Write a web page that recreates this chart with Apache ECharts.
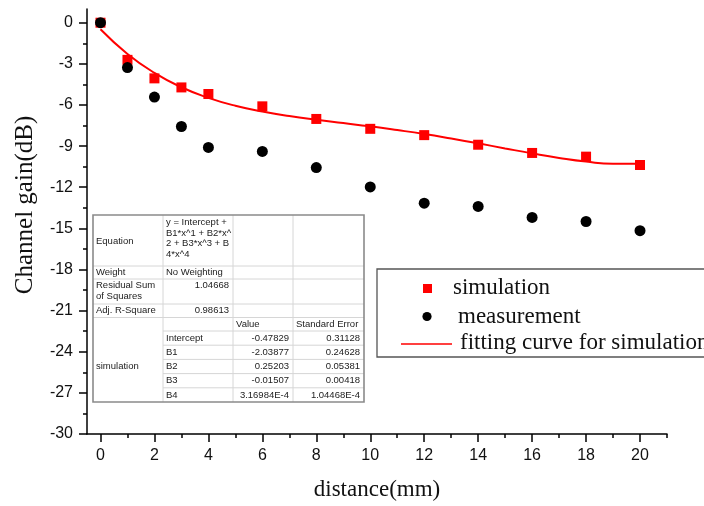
<!DOCTYPE html>
<html>
<head>
<meta charset="utf-8">
<script src="https://cdn.jsdelivr.net/npm/echarts/dist/echarts.min.js"></script>
<style>
html,body{margin:0;padding:0;background:#fff;}
#main{width:704px;height:506px;}
</style>
</head>
<body>
<div id="main"></div>
<script>
// measured points
var distance = [0, 1, 2, 3, 4, 6, 8, 10, 12, 14, 16, 18, 20];
var simulation = [0, -2.71, -4.06, -4.72, -5.2, -6.1, -7.02, -7.74, -8.2, -8.9, -9.5, -9.77, -10.38];
var measurement = [0, -3.27, -5.42, -7.57, -9.1, -9.39, -10.57, -11.98, -13.16, -13.4, -14.2, -14.5, -15.17];
// fitted curve
var fitX = [0, 1, 2, 3, 4, 5, 6, 7, 8, 9, 10, 11, 12, 13, 14, 15, 16, 17, 18, 19, 20];
var fitY = [-0.48, -2.28, -3.66, -4.71, -5.48, -6.06, -6.48, -6.81, -7.08, -7.32, -7.56, -7.83, -8.12, -8.45, -8.8, -9.17, -9.53, -9.86, -10.13, -10.29, -10.28];
// ticks
var xMajor = [0, 2, 4, 6, 8, 10, 12, 14, 16, 18, 20];
var xMinor = [1, 3, 5, 7, 9, 11, 13, 15, 17, 19, 21];
var yMajor = [-30, -27, -24, -21, -18, -15, -12, -9, -6, -3, 0];
var yMinor = [-28.5, -25.5, -22.5, -19.5, -16.5, -13.5, -10.5, -7.5, -4.5, -1.5];
// fit table texts
var eqLines = ['y = Intercept +', 'B1*x^1 + B2*x^', '2 + B3*x^3 + B', '4*x^4'];
var statNames = ['Weight', 'Residual Sum\nof Squares', 'Adj. R-Square'];
var statValues = ['No Weighting', '1.04668', '0.98613'];
var paramNames = ['Intercept', 'B1', 'B2', 'B3', 'B4'];
var paramValues = ['-0.47829', '-2.03877', '0.25203', '-0.01507', '3.16984E-4'];
var paramErrors = ['0.31128', '0.24628', '0.05381', '0.00418', '1.04468E-4'];
var legendNames = ['simulation', 'measurement', 'fitting curve for simulation'];

function pairs(xs, ys) {
    var out = [];
    for (var i = 0; i < xs.length; i++) out.push([xs[i], ys[i]]);
    return out;
}

var sans = '"Liberation Sans", Arial, sans-serif';
var serif = '"Liberation Serif", "Times New Roman", serif';

// table layout
var cols = [93, 163, 233, 293, 364];
var rows = [215, 266, 279, 304, 317.5, 331, 345.2, 359.4, 373.6, 387.8, 402];
var tfont = {fontFamily: sans, fontSize: 9.5, fill: '#222', lineHeight: 10.7};

function txt(s, x, y, align, valign) {
    return {
        type: 'text', x: x, y: y, z: 20,
        style: Object.assign({text: s, align: align || 'left', verticalAlign: valign || 'middle'}, tfont)
    };
}
function ln(x1, y1, x2, y2, color, w) {
    return {type: 'line', z: 19, shape: {x1: x1, y1: y1, x2: x2, y2: y2}, style: {stroke: color, lineWidth: w || 1}};
}

var table = [];
table.push({type: 'rect', z: 18, shape: {x: cols[0], y: rows[0], width: cols[4] - cols[0], height: rows[10] - rows[0]},
    style: {fill: '#fff', stroke: null}});
// grid lines
for (var r = 1; r < rows.length - 1; r++) {
    var startX = (r >= 5) ? cols[1] : cols[0];
    table.push(ln(startX, rows[r], cols[4], rows[r], '#d6d6d6'));
}
for (var c = 1; c < cols.length - 1; c++) {
    table.push(ln(cols[c], rows[0], cols[c], rows[10], '#d6d6d6'));
}
table.push({type: 'rect', z: 21, shape: {x: cols[0], y: rows[0], width: cols[4] - cols[0], height: rows[10] - rows[0]},
    style: {fill: null, stroke: '#8a8a8a', lineWidth: 1.6}});
table.push(txt('Equation', cols[0] + 3, (rows[0] + rows[1]) / 2 + 1));
table.push(txt(eqLines.join('\n'), cols[1] + 3, rows[0] + 2, 'left', 'top'));
for (var i = 0; i < statNames.length; i++) {
    var rowTop = rows[i + 1];
    table.push(txt(statNames[i], cols[0] + 3, rowTop + 1.5, 'left', 'top'));
    if (i == 0) table.push(txt(statValues[i], cols[1] + 3, rowTop + 1.5, 'left', 'top'));
    else table.push(txt(statValues[i], cols[2] - 4, rowTop + 1.5, 'right', 'top'));
}
table.push(txt('Value', cols[2] + 3, (rows[4] + rows[5]) / 2));
table.push(txt('Standard Error', cols[3] + 3, (rows[4] + rows[5]) / 2));
table.push(txt('simulation', cols[0] + 3, (rows[5] + rows[10]) / 2));
for (var k = 0; k < paramNames.length; k++) {
    var cy = (rows[5 + k] + rows[6 + k]) / 2;
    table.push(txt(paramNames[k], cols[1] + 3, cy));
    table.push(txt(paramValues[k], cols[3] - 4, cy, 'right'));
    table.push(txt(paramErrors[k], cols[4] - 4, cy, 'right'));
}

// legend box
var legFont = {fontFamily: serif, fontSize: 23, fill: '#111', verticalAlign: 'middle'};
var legend = [
    {type: 'rect', z: 18, shape: {x: 377, y: 269, width: 340, height: 88}, style: {fill: '#fff', stroke: '#555', lineWidth: 1.3}},
    {type: 'rect', z: 20, shape: {x: 423, y: 284, width: 9, height: 9}, style: {fill: '#ff0000'}},
    {type: 'circle', z: 20, shape: {cx: 427, cy: 316.5, r: 4.6}, style: {fill: '#000'}},
    {type: 'line', z: 20, shape: {x1: 401, y1: 344, x2: 452, y2: 344}, style: {stroke: '#ff0000', lineWidth: 1.6}},
    {type: 'text', z: 20, x: 453, y: 288, style: Object.assign({text: legendNames[0]}, legFont)},
    {type: 'text', z: 20, x: 458, y: 317, style: Object.assign({text: legendNames[1]}, legFont)},
    {type: 'text', z: 20, x: 460, y: 343, style: Object.assign({text: legendNames[2]}, legFont)}
];

var yTitle = {type: 'text', z: 20, x: 25, y: 205, rotation: Math.PI / 2,
    style: {text: 'Channel gain(dB)', fontFamily: serif, fontSize: 25, fill: '#111', align: 'center', verticalAlign: 'middle'}};

var axisCol = '#000';
var myChart = echarts.init(document.getElementById('main'), null, {renderer: 'canvas', width: 704, height: 506});
var option = {
    animation: false,
    backgroundColor: '#fff',
    grid: {left: 87, right: 37, top: 9, bottom: 70},
    xAxis: [{
        type: 'value', min: -0.5, max: 21,
        axisLine: {onZero: false, lineStyle: {color: axisCol, width: 1.5}},
        axisTick: {customValues: xMajor, length: 8, lineStyle: {color: axisCol, width: 1.5}},
        axisLabel: {customValues: xMajor, margin: 14, fontSize: 16, fontFamily: sans, color: '#111'},
        splitLine: {show: false},
        name: 'distance(mm)', nameLocation: 'middle', nameGap: 44,
        nameTextStyle: {fontFamily: serif, fontSize: 23, color: '#111'}
    }, {
        type: 'value', min: -0.5, max: 21, position: 'bottom',
        axisLine: {show: false, onZero: false},
        axisTick: {customValues: xMinor, length: 4, lineStyle: {color: axisCol, width: 1.5}},
        axisLabel: {show: false},
        splitLine: {show: false}
    }],
    yAxis: [{
        type: 'value', min: -30, max: 1,
        axisLine: {onZero: false, lineStyle: {color: axisCol, width: 1.5}},
        axisTick: {customValues: yMajor, length: 8, lineStyle: {color: axisCol, width: 1.5}},
        axisLabel: {customValues: yMajor, margin: 14, fontSize: 16, fontFamily: sans, color: '#111'},
        splitLine: {show: false}
    }, {
        type: 'value', min: -30, max: 1, position: 'left',
        axisLine: {show: false, onZero: false},
        axisTick: {customValues: yMinor, length: 4, lineStyle: {color: axisCol, width: 1.5}},
        axisLabel: {show: false},
        splitLine: {show: false}
    }],
    series: [{
        name: 'fitting curve for simulation',
        type: 'line',
        data: pairs(fitX, fitY),
        smooth: true,
        showSymbol: false,
        lineStyle: {color: '#ff0000', width: 2},
        z: 2
    }, {
        name: 'simulation',
        type: 'scatter',
        data: pairs(distance, simulation),
        symbol: 'rect',
        symbolSize: 10,
        itemStyle: {color: '#ff0000', opacity: 1},
        z: 3
    }, {
        name: 'measurement',
        type: 'scatter',
        data: pairs(distance, measurement),
        symbol: 'circle',
        symbolSize: 11,
        itemStyle: {color: '#000', opacity: 1},
        z: 4
    }],
    graphic: table.concat(legend).concat([yTitle])
};
myChart.setOption(option);
</script>
</body>
</html>
